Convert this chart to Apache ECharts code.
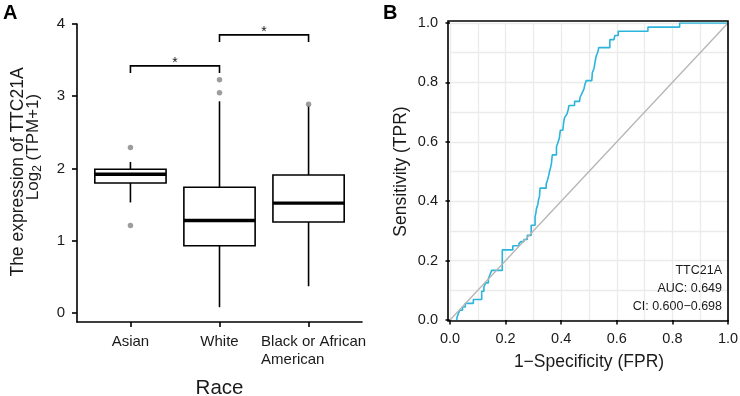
<!DOCTYPE html>
<html>
<head>
<meta charset="utf-8">
<script src="https://cdn.jsdelivr.net/npm/echarts@6.0.0/dist/echarts.min.js"></script>
<style>
  html, body { margin: 0; padding: 0; background: #fff; }
  #chart { width: 740px; height: 396px; }
</style>
</head>
<body>
<div id="chart"></div>
<script>
// panel A - expression by race
var races = ['Asian', 'White', 'Black or African\nAmerican'];
var boxLow = [1.53, 0.08, 0.37];
var boxQ1 = [1.80, 0.93, 1.26];
var boxMedian = [1.92, 1.28, 1.52];
var boxQ3 = [1.99, 1.74, 1.91];
var boxHigh = [2.09, 2.93, 2.87];
var outlierRace = [1, 1, 2, 2, 3];
var outlierValue = [2.29, 1.21, 3.23, 3.05, 2.89];
var sigFrom = [1, 2];
var sigTo = [2, 3];
var sigHeight = [3.42, 3.85];
var sigLabel = ['*', '*'];
var yTicksA = [0, 1, 2, 3, 4];
var xTicksA = [1, 2, 3];

// panel B - ROC curve vertices
var fpr = [0.024, 0.026, 0.030, 0.030, 0.036, 0.036, 0.045, 0.045, 0.055, 0.055, 0.084, 0.084,
  0.114, 0.114, 0.122, 0.122, 0.128, 0.128, 0.138, 0.138, 0.144, 0.144, 0.150, 0.150,
  0.188, 0.188, 0.226, 0.226, 0.248, 0.248, 0.255, 0.255, 0.266, 0.266, 0.278, 0.278,
  0.292, 0.292, 0.306, 0.306, 0.309, 0.311, 0.316, 0.318, 0.322, 0.324, 0.346, 0.346,
  0.351, 0.355, 0.358, 0.362, 0.365, 0.368, 0.383, 0.383, 0.388, 0.393, 0.397, 0.406,
  0.409, 0.412, 0.418, 0.421, 0.425, 0.428, 0.448, 0.448, 0.466, 0.468, 0.475, 0.482,
  0.485, 0.490, 0.510, 0.512, 0.518, 0.523, 0.526, 0.532, 0.535, 0.575, 0.575, 0.590,
  0.593, 0.605, 0.605, 0.712, 0.712, 0.826, 0.826, 1.000];
var tpr = [0.000, 0.011, 0.011, 0.022, 0.022, 0.033, 0.033, 0.044, 0.044, 0.056, 0.056, 0.069,
  0.069, 0.097, 0.097, 0.111, 0.111, 0.125, 0.125, 0.139, 0.139, 0.153, 0.153, 0.167,
  0.167, 0.236, 0.236, 0.250, 0.250, 0.257, 0.257, 0.264, 0.264, 0.271, 0.271, 0.285,
  0.285, 0.319, 0.319, 0.347, 0.361, 0.375, 0.389, 0.403, 0.417, 0.444, 0.444, 0.458,
  0.472, 0.486, 0.500, 0.514, 0.528, 0.556, 0.556, 0.583, 0.597, 0.611, 0.639, 0.639,
  0.667, 0.681, 0.681, 0.694, 0.708, 0.722, 0.722, 0.736, 0.736, 0.750, 0.764, 0.778,
  0.792, 0.806, 0.806, 0.833, 0.847, 0.875, 0.889, 0.903, 0.917, 0.917, 0.944, 0.944,
  0.958, 0.958, 0.972, 0.972, 0.986, 0.986, 1.000, 1.000];
var diagonal = [0, 1];
var rocLines = ['TTC21A', 'AUC: 0.649', 'CI: 0.600\u22120.698'];

var FONT = "'Liberation Sans', Arial, sans-serif";
var INK = '#1a1a1a';

function renderBox(params, api) {
    var x = api.value(0);
    var lo = api.coord([x, api.value(1)]);
    var q1 = api.coord([x, api.value(2)]);
    var md = api.coord([x, api.value(3)]);
    var q3 = api.coord([x, api.value(4)]);
    var hi = api.coord([x, api.value(5)]);
    var half = api.size([0.8, 0])[0] / 2;
    return {
        type: 'group',
        children: [
            {type: 'line', shape: {x1: lo[0], y1: lo[1], x2: q1[0], y2: q1[1]}, style: {stroke: '#000', lineWidth: 1.6}},
            {type: 'line', shape: {x1: q3[0], y1: q3[1], x2: hi[0], y2: hi[1]}, style: {stroke: '#000', lineWidth: 1.6}},
            {type: 'rect', shape: {x: q3[0] - half, y: q3[1], width: half * 2, height: q1[1] - q3[1]},
                style: {fill: '#fff', stroke: '#000', lineWidth: 1.6}},
            {type: 'line', shape: {x1: md[0] - half, y1: md[1], x2: md[0] + half, y2: md[1]}, style: {stroke: '#000', lineWidth: 3.4}}
        ]
    };
}

function renderSig(params, api) {
    var a = api.coord([api.value(0), api.value(2)]);
    var b = api.coord([api.value(1), api.value(2)]);
    var drop = api.size([0, 0.1])[1];
    return {
        type: 'group',
        children: [
            {type: 'polyline', shape: {points: [[a[0], a[1] + drop], [a[0], a[1]], [b[0], b[1]], [b[0], b[1] + drop]]},
                style: {stroke: '#000', lineWidth: 1.6, fill: null}},
            {type: 'text', x: (a[0] + b[0]) / 2, y: a[1] - 3,
                style: {text: sigLabel[params.dataIndex], fontSize: 14, fontFamily: FONT, fill: INK, align: 'center', verticalAlign: 'middle'}}
        ]
    };
}

var boxData = races.map(function (r, i) {
    return [i + 1, boxLow[i], boxQ1[i], boxMedian[i], boxQ3[i], boxHigh[i]];
});
var outlierData = outlierRace.map(function (r, i) { return [r, outlierValue[i]]; });
var sigData = sigFrom.map(function (f, i) { return [f, sigTo[i], sigHeight[i]]; });
var rocData = fpr.map(function (f, i) { return [f, tpr[i]]; });
var diagData = diagonal.map(function (d) { return [d, d]; });

var blackLine = {color: '#000', width: 1.6};

var option = {
    animation: false,
    backgroundColor: '#fff',
    textStyle: {fontFamily: FONT},
    grid: [
        {left: 77, right: 378, top: 24, bottom: 74, outerBoundsMode: 'none'},
        {left: 450, right: 12, top: 23, bottom: 76, outerBoundsMode: 'none'},
        {left: 448, right: 12, top: 21, bottom: 75, outerBoundsMode: 'none',
            show: true, borderColor: '#000', borderWidth: 1.6, z: 10}
    ],
    xAxis: [
        {
            gridIndex: 0, type: 'value', min: 0.4, max: 3.6,
            axisLine: {onZero: false, lineStyle: blackLine},
            axisTick: {customValues: xTicksA, length: 5, lineStyle: blackLine},
            axisLabel: {
                customValues: xTicksA, margin: 11, fontSize: 15, color: INK, lineHeight: 18,
                formatter: function (v) {
                    var s = races[Math.round(v) - 1];
                    if (s.indexOf('\n') >= 0) {
                        return s.split('\n').map(function (t) { return '{l|' + t + '}'; }).join('\n');
                    }
                    return s;
                },
                rich: {l: {align: 'left', fontSize: 15, lineHeight: 18, color: INK, fontFamily: FONT, padding: [0, 0, 0, 10]}}
            },
            splitLine: {show: false},
            name: 'Race', nameLocation: 'middle', nameGap: 56,
            nameTextStyle: {fontSize: 20.5, color: INK}
        },
        {
            gridIndex: 1, type: 'value', min: 0, max: 1, interval: 0.2,
            axisLine: {show: false, onZero: false},
            axisTick: {show: true, length: 4.5, lineStyle: {color: '#000', width: 1.5}},
            axisLabel: {fontSize: 14.5, color: INK, margin: 11, formatter: function (v) { return v.toFixed(1); }},
            splitLine: {show: true, lineStyle: {color: '#ebebeb', width: 1.3}},
            minorTick: {show: false, splitNumber: 2},
            minorSplitLine: {show: true, lineStyle: {color: '#ebebeb', width: 1.3}},
            name: '1\u2212Specificity (FPR)', nameLocation: 'middle', nameGap: 33,
            nameTextStyle: {fontSize: 17.5, color: INK}
        },
        {gridIndex: 2, type: 'value', min: 0, max: 1, show: false}
    ],
    yAxis: [
        {
            gridIndex: 0, type: 'value', min: -0.125, max: 4,
            axisLine: {show: true, onZero: false, lineStyle: blackLine},
            axisTick: {show: true, customValues: yTicksA, length: 5, lineStyle: blackLine},
            axisLabel: {customValues: yTicksA, margin: 12, fontSize: 15, color: INK},
            splitLine: {show: false}
        },
        {
            gridIndex: 1, type: 'value', min: 0, max: 1, interval: 0.2,
            axisLine: {show: false, onZero: false},
            axisTick: {show: true, length: 4.5, lineStyle: {color: '#000', width: 1.5}},
            axisLabel: {fontSize: 14.5, color: INK, margin: 12, formatter: function (v) { return v.toFixed(1); }},
            splitLine: {show: true, lineStyle: {color: '#ebebeb', width: 1.3}},
            minorTick: {show: false, splitNumber: 2},
            minorSplitLine: {show: true, lineStyle: {color: '#ebebeb', width: 1.3}},
            name: 'Sensitivity (TPR)', nameLocation: 'middle', nameGap: 40,
            nameTextStyle: {fontSize: 17.5, color: INK}
        },
        {gridIndex: 2, type: 'value', min: 0, max: 1, show: false}
    ],
    graphic: [
        {type: 'text', left: 3, top: 3, z: 100, style: {text: 'A', fontSize: 20, fontWeight: 'bold', fontFamily: FONT, fill: '#000'}},
        {type: 'text', left: 383, top: 3, z: 100, style: {text: 'B', fontSize: 20, fontWeight: 'bold', fontFamily: FONT, fill: '#000'}},
        {type: 'text', x: 18.5, y: 172, rotation: Math.PI / 2, z: 100,
            style: {text: 'The expression of TTC21A', fontSize: 17.5, fontFamily: FONT, fill: INK, align: 'center', verticalAlign: 'middle'}},
        {type: 'text', x: 33, y: 147, rotation: Math.PI / 2, z: 100,
            style: {
                text: '{a|Log}{s|2}{a| (TPM+1)}', align: 'center', verticalAlign: 'middle',
                rich: {
                    a: {fontSize: 17, fontFamily: FONT, fill: INK, lineHeight: 22, verticalAlign: 'middle'},
                    s: {fontSize: 12, fontFamily: FONT, fill: INK, lineHeight: 12, verticalAlign: 'bottom'}
                }
            }},
        {type: 'text', x: 722, y: 271, z: 100, style: {text: rocLines[0], fontSize: 12.5, fontFamily: FONT, fill: INK, align: 'right', verticalAlign: 'middle'}},
        {type: 'text', x: 722, y: 289, z: 100, style: {text: rocLines[1], fontSize: 12.5, fontFamily: FONT, fill: INK, align: 'right', verticalAlign: 'middle'}},
        {type: 'text', x: 722, y: 306.5, z: 100, style: {text: rocLines[2], fontSize: 12.5, fontFamily: FONT, fill: INK, align: 'right', verticalAlign: 'middle'}}
    ],
    series: [
        {
            type: 'custom', xAxisIndex: 0, yAxisIndex: 0,
            renderItem: renderBox, data: boxData,
            encode: {x: 0, y: [1, 2, 3, 4, 5]}
        },
        {
            type: 'scatter', xAxisIndex: 0, yAxisIndex: 0,
            data: outlierData, symbolSize: 5.5,
            itemStyle: {color: '#858585'}
        },
        {
            type: 'custom', xAxisIndex: 0, yAxisIndex: 0,
            renderItem: renderSig, data: sigData,
            encode: {x: [0, 1], y: 2}
        },
        {
            type: 'line', xAxisIndex: 1, yAxisIndex: 1,
            data: rocData, showSymbol: false, symbol: 'none',
            lineStyle: {color: '#2bb5dc', width: 1.6}
        },
        {
            type: 'line', xAxisIndex: 1, yAxisIndex: 1,
            data: diagData, showSymbol: false, symbol: 'none',
            lineStyle: {color: '#b5b5b5', width: 1.3}
        }
    ]
};

var myChart = echarts.init(document.getElementById('chart'), null, {renderer: 'canvas'});
myChart.setOption(option);
</script>
</body>
</html>
